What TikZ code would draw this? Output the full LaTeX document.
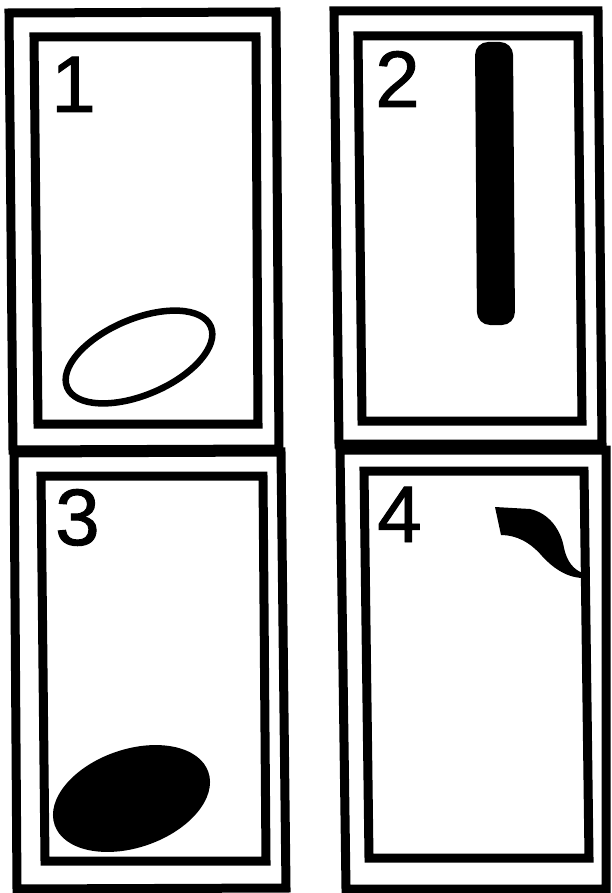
\documentclass[tikz,border=0pt]{standalone}
\usepackage{fontspec}
\setmainfont{Liberation Sans}
\newfontfamily\digitfont[FakeBold=1.2]{Liberation Sans}
\begin{document}
\begin{tikzpicture}[x=1pt,y=-1pt,
  framebox/.style={draw, line width=9pt, line join=miter},
  digit/.style={font=\digitfont\fontsize{80}{80}\selectfont, inner sep=0pt, anchor=base west}]
\useasboundingbox (0,0) rectangle (611,893);
\fill[white] (0,0) rectangle (611,893);
% panel 1
\draw[framebox] (9,13) -- (276,12) -- (279,449) -- (13,450) -- cycle;
\draw[framebox] (34,37) -- (256,37) -- (258,424) -- (38,424) -- cycle;
\node[digit] (n1) at (51,112) {1};
\draw[line width=6.5pt, rotate around={23:(139,357)}] (139,357) ellipse [x radius=78pt, y radius=38pt];
% panel 2
\draw[framebox] (334,11) -- (598,11) -- (602,444) -- (339,444) -- cycle;
\draw[framebox] (358,36) -- (578,36) -- (582,421) -- (362,421) -- cycle;
\node[digit] (n2) at (375,107) {2};
\fill[rounded corners=13pt] (475,42) -- (513,42) -- (515,325) -- (477,325) -- cycle;
% panel 3
\draw[framebox] (14,453) -- (281,452) -- (286,888) -- (17,889) -- cycle;
\draw[framebox] (41,476) -- (263,476) -- (266,861) -- (45,861) -- cycle;
\node[digit] (n3) at (55,545) {3};
\fill[rotate around={19:(131.5,798.5)}] (131.5,798.5) ellipse [x radius=81.3pt, y radius=49.1pt];
% panel 4
\draw[framebox] (340,450) -- (606,450) -- (606,889) -- (346,889) -- cycle;
\draw[framebox] (364,471) -- (584,471) -- (589,858) -- (369,858) -- cycle;
\node[digit] (n4) at (377,542) {4};
\fill (495,507) -- (530,509) .. controls (549,513) and (561,530) .. (564,548)
  .. controls (567,562) and (574,570) .. (583,573) -- (582,578)
  .. controls (565,577) and (552,567) .. (542,556)
  .. controls (530,542) and (516,535) .. (501,535) -- cycle;
\end{tikzpicture}
\end{document}
